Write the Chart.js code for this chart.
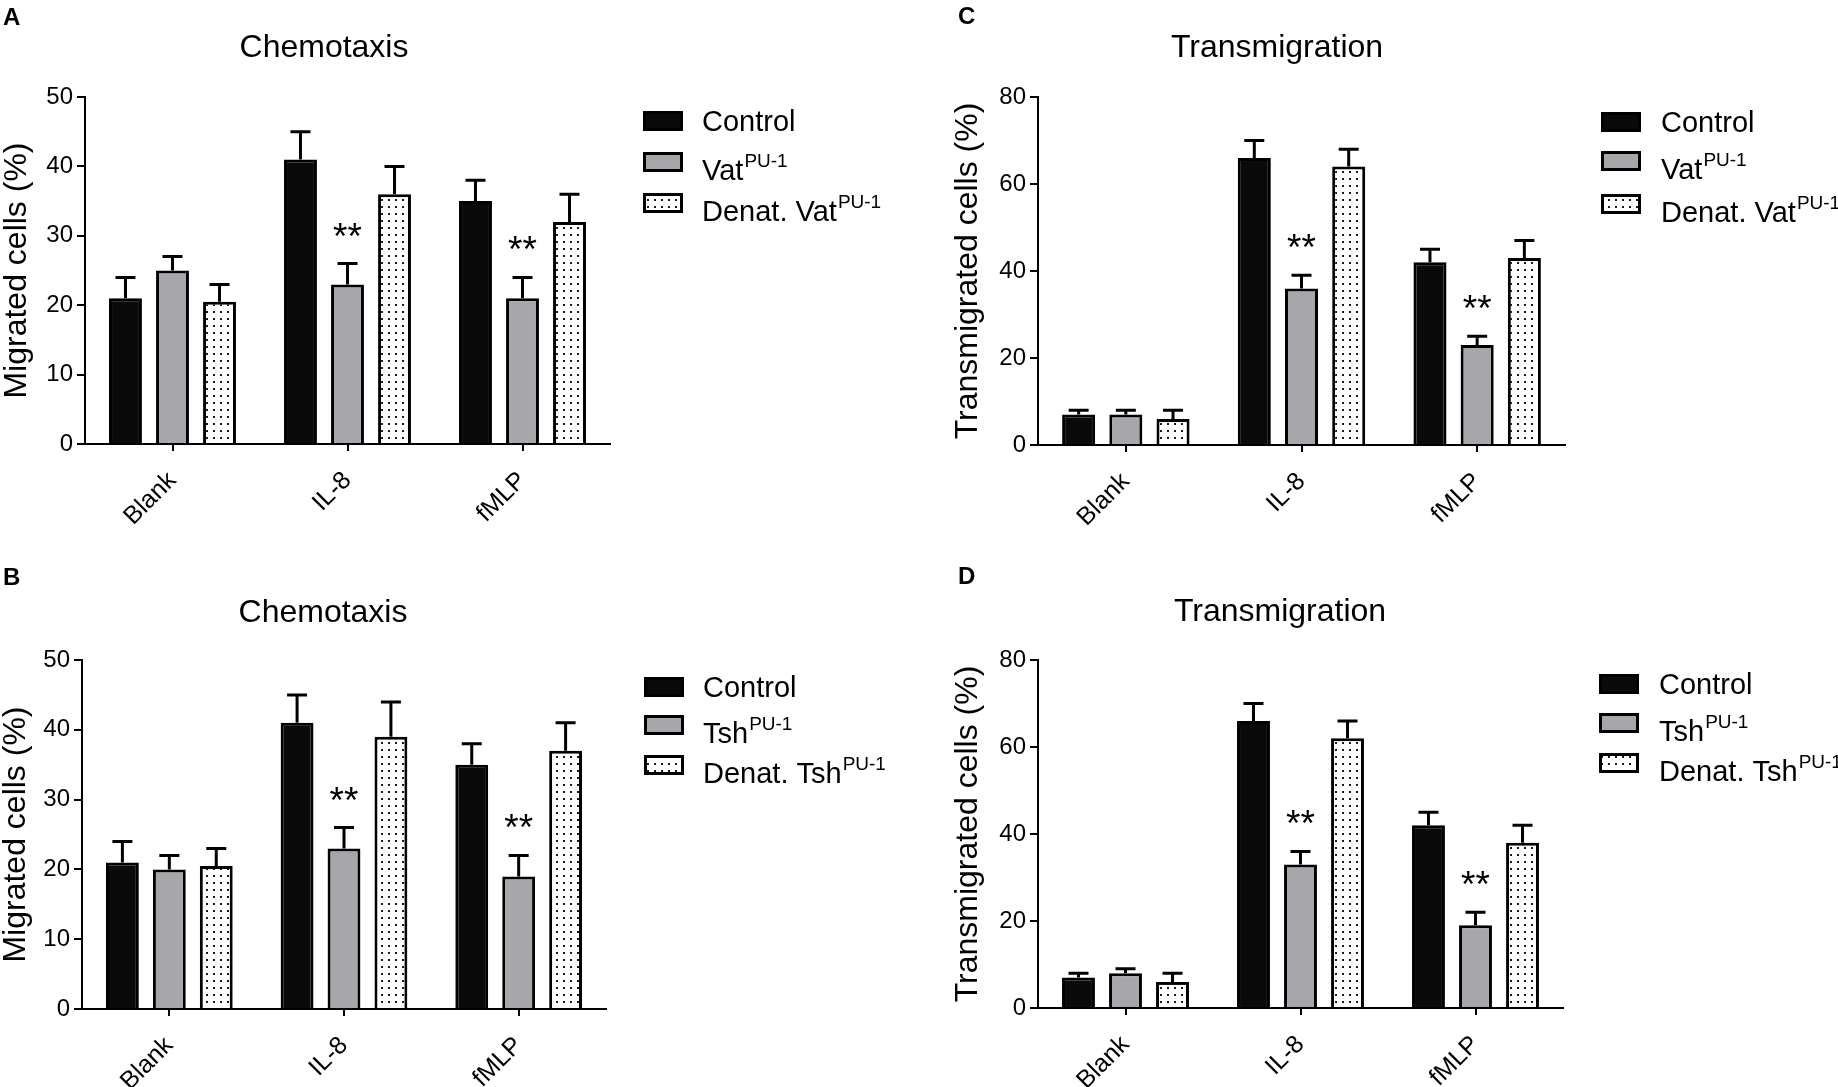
<!DOCTYPE html>
<html>
<head>
<meta charset="utf-8">
<script src="https://cdn.jsdelivr.net/npm/chart.js@4.4.0/dist/chart.umd.min.js"></script>
<style>
html, body { margin: 0; padding: 0; background: #fff; }
body { width: 1838px; height: 1087px; position: relative; overflow: hidden; }
canvas { position: absolute; }
</style>
</head>
<body>
<canvas id="panelA" width="919" height="543" style="left:0;top:0"></canvas>
<canvas id="panelC" width="919" height="543" style="left:919px;top:0"></canvas>
<canvas id="panelB" width="919" height="544" style="left:0;top:543px"></canvas>
<canvas id="panelD" width="919" height="544" style="left:919px;top:543px"></canvas>
<script>
// categories (x axis)
const categories = ['Blank', 'IL-8', 'fMLP'];

// A : chemotaxis, Vat PU-1
const chemoVatControl = [21, 41, 35];
const chemoVatControlErr = [3, 4, 3];
const chemoVat = [25, 23, 21];
const chemoVatErr = [2, 3, 3];
const chemoVatDenat = [20.5, 36, 32];
const chemoVatDenatErr = [2.5, 4, 4];

// B : chemotaxis, Tsh PU-1
const chemoTshControl = [21, 41, 35];
const chemoTshControlErr = [3, 4, 3];
const chemoTsh = [20, 23, 19];
const chemoTshErr = [2, 3, 3];
const chemoTshDenat = [20.5, 39, 37];
const chemoTshDenatErr = [2.5, 5, 4];

// C : transmigration, Vat PU-1
const transVatControl = [7, 66, 42];
const transVatControlErr = [1, 4, 3];
const transVat = [7, 36, 23];
const transVatErr = [1, 3, 2];
const transVatDenat = [6, 64, 43];
const transVatDenatErr = [2, 4, 4];

// D : transmigration, Tsh PU-1
const transTshControl = [7, 66, 42];
const transTshControlErr = [1, 4, 3];
const transTsh = [8, 33, 19];
const transTshErr = [1, 3, 3];
const transTshDenat = [6, 62, 38];
const transTshDenatErr = [2, 4, 4];

// significance marks on the treated series
const sigMarks = ['', '**', '**'];

// y tick labels
const chemoTicks = [0, 10, 20, 30, 40, 50];
const transTicks = [0, 20, 40, 60, 80];

// legend names (main part + superscript)
const vatNames = ['Control', 'Vat', 'Denat. Vat'];
const tshNames = ['Control', 'Tsh', 'Denat. Tsh'];
const supNames = ['', 'PU-1', 'PU-1'];

const FONT = '"Liberation Sans", Arial, sans-serif';
Chart.defaults.font.family = FONT;
Chart.defaults.color = '#000';

function dotPattern() {
    let c = document.createElement('canvas');
    c.width = 7; c.height = 7;
    let g = c.getContext('2d');
    g.fillStyle = '#fff';
    g.fillRect(0, 0, 7, 7);
    g.fillStyle = '#1a1a1a';
    g.fillRect(3, 3, 2, 2);
    return g.createPattern(c, 'repeat');
}
const fills = ['#0a0a0a', '#a6a6ab', dotPattern()];

// error bars + ** marks
const errorBars = {
    id: 'errorBars',
    afterDatasetsDraw(chart) {
        const ctx = chart.ctx;
        const y = chart.scales.y;
        ctx.save();
        ctx.strokeStyle = '#000';
        ctx.lineWidth = 3;
        chart.data.datasets.forEach((ds, i) => {
            chart.getDatasetMeta(i).data.forEach((bar, j) => {
                let top = y.getPixelForValue(ds.data[j] + ds.errors[j]);
                ctx.beginPath();
                ctx.moveTo(bar.x, bar.y);
                ctx.lineTo(bar.x, top);
                ctx.moveTo(bar.x - 10, top);
                ctx.lineTo(bar.x + 10, top);
                ctx.stroke();
                if (ds.marks && ds.marks[j]) {
                    ctx.fillStyle = '#000';
                    ctx.font = '37px ' + FONT;
                    ctx.textAlign = 'center';
                    ctx.textBaseline = 'alphabetic';
                    ctx.fillText(ds.marks[j], bar.x, top - 15);
                }
            });
        });
        ctx.restore();
    }
};

// panel letter, title and legend
const panelDecor = {
    id: 'panelDecor',
    afterDraw(chart, args, o) {
        const ctx = chart.ctx;
        ctx.save();
        ctx.fillStyle = '#000';
        ctx.textBaseline = 'alphabetic';
        ctx.textAlign = 'left';
        ctx.font = 'bold 24px ' + FONT;
        ctx.fillText(o.letter, o.letterX, o.letterY);
        ctx.font = '32px ' + FONT;
        ctx.textAlign = 'center';
        ctx.fillText(o.title, o.titleX, o.titleY);
        ctx.textAlign = 'left';
        chart.data.datasets.forEach((ds, i) => {
            let cy = o.rows[i];
            ctx.fillStyle = '#000';
            ctx.fillRect(o.boxX, cy - 10, 40, 20);
            ctx.fillStyle = ds.backgroundColor;
            ctx.fillRect(o.boxX + 3, cy - 7, 34, 14);
            ctx.fillStyle = '#000';
            let base = ds.sup ? cy + 18 : cy + 10;
            ctx.font = '29px ' + FONT;
            ctx.fillText(ds.name, o.textX, base);
            if (ds.sup) {
                let w = ctx.measureText(ds.name).width;
                ctx.font = '19px ' + FONT;
                ctx.fillText(ds.sup, o.textX + w + 1, base - 13);
            }
        });
        ctx.restore();
    }
};

function makePanel(id, cfg) {
    const canvas = document.getElementById(id);
    const W = canvas.width, H = canvas.height;
    const xAxisH = 95;
    const datasets = cfg.series.map((s, i) => ({
        label: cfg.names[i] + supNames[i],
        name: cfg.names[i],
        sup: supNames[i],
        data: s,
        errors: cfg.errors[i],
        marks: i === 1 ? sigMarks : null,
        backgroundColor: fills[i],
        borderColor: '#000',
        borderWidth: 3,
        borderSkipped: 'start',
        barPercentage: 0.7,
        categoryPercentage: 0.806
    }));
    return new Chart(canvas, {
        type: 'bar',
        data: { labels: categories, datasets: datasets },
        options: {
            responsive: false,
            animation: false,
            layout: {
                padding: {
                    left: cfg.padLeft,
                    top: cfg.area.top,
                    right: W - cfg.area.right,
                    bottom: H - cfg.area.bottom - xAxisH
                }
            },
            plugins: {
                legend: { display: false },
                title: { display: false },
                tooltip: { enabled: false },
                panelDecor: cfg.decor
            },
            scales: {
                x: {
                    afterFit: (s) => { s.height = xAxisH; },
                    grid: { offset: false, drawOnChartArea: false, drawTicks: true, tickLength: 7, color: '#000', lineWidth: 2 },
                    border: { display: true, color: '#000', width: 2 },
                    ticks: { font: { size: 25 }, color: '#000', maxRotation: 45, minRotation: 45, autoSkip: false, padding: 15 }
                },
                y: {
                    min: cfg.ticks[0],
                    max: cfg.ticks[cfg.ticks.length - 1],
                    afterFit: (s) => { s.width = cfg.area.left - cfg.padLeft; },
                    afterBuildTicks: (s) => { s.ticks = cfg.ticks.map(v => ({ value: v })); },
                    grid: { drawOnChartArea: false, drawTicks: true, tickLength: 8, color: '#000', lineWidth: 2 },
                    border: { display: true, color: '#000', width: 2 },
                    ticks: { font: { size: 24 }, color: '#000', padding: 4 },
                    title: { display: true, text: cfg.yTitle, font: { size: 32, lineHeight: 1 }, padding: 0, color: '#000' }
                }
            }
        },
        plugins: [errorBars, panelDecor]
    });
}

makePanel('panelA', {
    series: [chemoVatControl, chemoVat, chemoVatDenat],
    errors: [chemoVatControlErr, chemoVatErr, chemoVatDenatErr],
    names: vatNames,
    ticks: chemoTicks,
    yTitle: 'Migrated cells (%)',
    padLeft: 1,
    area: { left: 85, right: 610, top: 97, bottom: 444 },
    decor: { letter: 'A', letterX: 3, letterY: 25, title: 'Chemotaxis', titleX: 324, titleY: 57,
             boxX: 643, textX: 702, rows: [121, 162, 203] }
});

makePanel('panelB', {
    series: [chemoTshControl, chemoTsh, chemoTshDenat],
    errors: [chemoTshControlErr, chemoTshErr, chemoTshDenatErr],
    names: tshNames,
    ticks: chemoTicks,
    yTitle: 'Migrated cells (%)',
    padLeft: 0,
    area: { left: 82, right: 606, top: 117, bottom: 466 },
    decor: { letter: 'B', letterX: 3, letterY: 42, title: 'Chemotaxis', titleX: 323, titleY: 79,
             boxX: 644, textX: 703, rows: [144, 182, 222] }
});

makePanel('panelC', {
    series: [transVatControl, transVat, transVatDenat],
    errors: [transVatControlErr, transVatErr, transVatDenatErr],
    names: vatNames,
    ticks: transTicks,
    yTitle: 'Transmigrated cells (%)',
    padLeft: 33,
    area: { left: 119, right: 646, top: 97, bottom: 445 },
    decor: { letter: 'C', letterX: 39, letterY: 24, title: 'Transmigration', titleX: 358, titleY: 57,
             boxX: 682, textX: 742, rows: [122, 161, 204] }
});

makePanel('panelD', {
    series: [transTshControl, transTsh, transTshDenat],
    errors: [transTshControlErr, transTshErr, transTshDenatErr],
    names: tshNames,
    ticks: transTicks,
    yTitle: 'Transmigrated cells (%)',
    padLeft: 33,
    area: { left: 119, right: 644, top: 117, bottom: 465 },
    decor: { letter: 'D', letterX: 39, letterY: 41, title: 'Transmigration', titleX: 361, titleY: 78,
             boxX: 680, textX: 740, rows: [141, 180, 220] }
});
</script>
</body>
</html>
